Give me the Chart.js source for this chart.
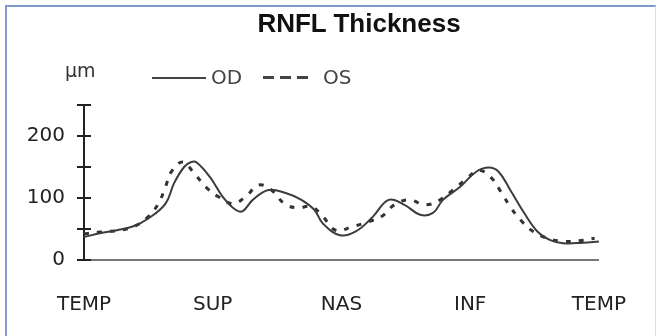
<!DOCTYPE html>
<html>
<head>
<meta charset="utf-8">
<script src="https://cdn.jsdelivr.net/npm/chart.js@4.4.1/dist/chart.umd.min.js"></script>
<style>
  html, body { margin: 0; padding: 0; background: #fff; }
  body { width: 659px; height: 336px; overflow: hidden; position: relative; }
  #frame { position: absolute; left: 5px; top: 5px; width: 651px; height: 331px;
           border-top: 2px solid #7d9bcc; border-left: 2px solid #7d9bcc; border-right: 1px solid #d5deee; box-sizing: border-box; }
  #wrap { position: absolute; left: 0; top: 0; width: 659px; height: 336px; }
  .txt { position: absolute; white-space: nowrap; }
  #title { left: 359px; top: 10px; transform: translateX(-50%); font: bold 26px "Liberation Sans", Arial, sans-serif; line-height: 26px; color: #111; }
  #unit { left: 65px; top: 60px; font: 19px "DejaVu Sans", sans-serif; line-height: 20px; color: #333; }
  .leg { top: 65px; font: 20px "DejaVu Sans", sans-serif; line-height: 24px; color: #444; }
  #odLine { position: absolute; left: 152px; top: 77px; width: 54px; height: 2px; background: #444; }
  #osLine { position: absolute; left: 263px; top: 76px; width: 45px; height: 3px;
            background: repeating-linear-gradient(to right, #444 0 11px, transparent 11px 17px); }
</style>
</head>
<body>
<div id="frame"></div>
<div id="wrap"><canvas id="rnfl" width="659" height="336"></canvas></div>
<div class="txt" id="title">RNFL Thickness</div>
<div class="txt" id="unit">µm</div>
<div id="odLine"></div>
<div class="txt leg" id="odText" style="left:211px">OD</div>
<div id="osLine"></div>
<div class="txt leg" id="osText" style="left:323px">OS</div>
<script>
// position around the disc in degrees, TEMP -> SUP -> NAS -> INF -> TEMP
const odAngle = [0, 11, 23, 34, 45, 57, 63, 70, 75, 79, 88, 97, 106, 111, 118, 129, 141, 152, 161, 167, 179, 190, 202, 213, 224, 235, 244, 251, 263, 274, 283, 290, 298, 308, 317, 326, 335, 349, 360];
const odValue = [37, 43, 48, 54, 67, 91, 124, 150, 158, 157, 134, 102, 81, 79, 97, 113, 108, 97, 81, 59, 40, 46, 70, 97, 89, 73, 76, 97, 118, 142, 149, 142, 113, 75, 46, 32, 27, 28, 30];

const osAngle = [0, 11, 25, 36, 45, 52, 57, 61, 69, 77, 85, 94, 104, 113, 122, 131, 140, 149, 159, 167, 176, 188, 199, 208, 217, 227, 239, 249, 258, 268, 276, 285, 292, 298, 305, 314, 324, 335, 346, 357];
const osValue = [42, 45, 48, 55, 70, 91, 118, 142, 158, 140, 118, 102, 91, 102, 121, 113, 91, 84, 86, 70, 48, 54, 62, 70, 89, 97, 89, 97, 113, 132, 145, 132, 108, 86, 65, 46, 35, 30, 31, 35];

const sectorTicks = [0, 90, 180, 270, 360];
const sectorLabels = ['TEMP', 'SUP', 'NAS', 'INF', 'TEMP'];
const yTickLabels = [0, 100, 200];

const axisFont = { family: '"DejaVu Sans", sans-serif', size: 20 };

// tick marks that cross the y axis (Chart.js only draws the outer half)
const crossTicks = {
    id: 'crossTicks',
    afterDraw(chart) {
        const y = chart.scales.y;
        const ctx = chart.ctx;
        const left = chart.chartArea.left;
        ctx.save();
        ctx.strokeStyle = '#222';
        ctx.lineWidth = 2;
        y.ticks.forEach(t => {
            const py = Math.round(y.getPixelForValue(t.value));
            ctx.beginPath();
            ctx.moveTo(left, py);
            ctx.lineTo(left + 7, py);
            ctx.stroke();
        });
        ctx.restore();
    }
};

new Chart(document.getElementById('rnfl'), {
    type: 'line',
    data: {
        datasets: [{
            label: 'OD',
            data: odAngle.map((a, i) => ({ x: a, y: odValue[i] })),
            borderColor: '#3c3c3c',
            borderWidth: 2,
            pointRadius: 0,
            tension: 0.4
        }, {
            label: 'OS',
            data: osAngle.map((a, i) => ({ x: a, y: osValue[i] })),
            borderColor: '#333',
            borderWidth: 3,
            borderDash: [5, 8],
            pointRadius: 0,
            tension: 0.4
        }]
    },
    options: {
        responsive: false,
        animation: false,
        layout: { padding: { left: 0, top: 105, right: 45, bottom: 19 } },
        plugins: { legend: { display: false }, title: { display: false }, tooltip: { enabled: false } },
        scales: {
            x: {
                type: 'linear',
                min: 0,
                max: 360,
                afterBuildTicks: scale => { scale.ticks = sectorTicks.map(v => ({ value: v })); },
                afterFit: scale => { scale.height = 57; },
                ticks: {
                    callback: v => sectorLabels[sectorTicks.indexOf(v)],
                    font: axisFont,
                    color: '#222',
                    padding: 33,
                    maxRotation: 0,
                    autoSkip: false
                },
                grid: { display: false, drawTicks: false },
                border: { display: true, color: '#777', width: 2, dash: [2, 1] }
            },
            y: {
                min: 0,
                max: 250,
                afterFit: scale => { scale.width = 84; },
                ticks: {
                    stepSize: 50,
                    callback: v => yTickLabels.includes(v) ? v : '',
                    font: axisFont,
                    color: '#222',
                    padding: 12
                },
                grid: { drawOnChartArea: false, drawTicks: true, tickLength: 7, color: '#222', lineWidth: 2 },
                border: { display: true, color: '#222', width: 2 }
            }
        }
    },
    plugins: [crossTicks]
});
</script>
</body>
</html>
